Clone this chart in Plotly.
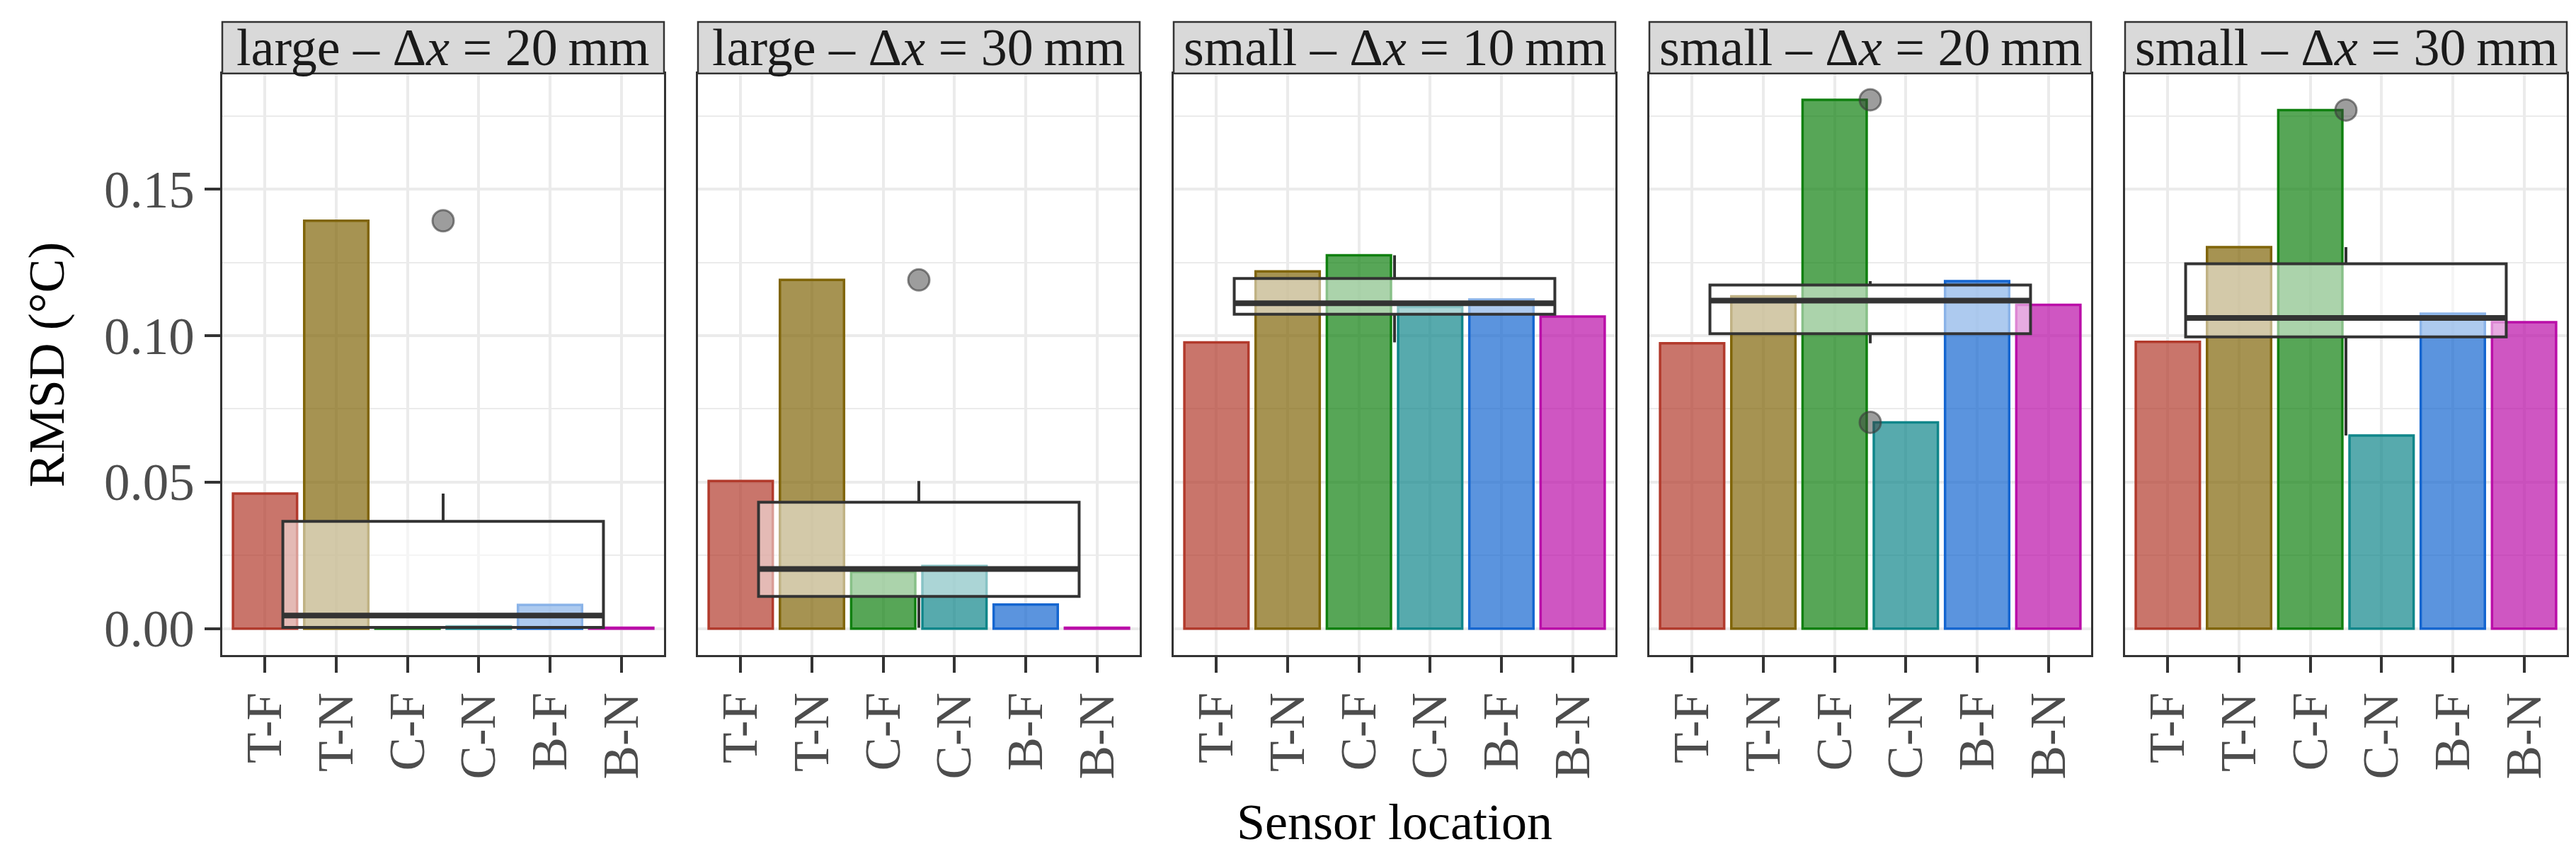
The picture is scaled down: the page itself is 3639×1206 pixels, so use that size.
import numpy as np
import plotly.graph_objects as go

# ---------------- data ----------------
categories = ["T-F", "T-N", "C-F", "C-N", "B-F", "B-N"]
panel_titles = [
    "large – Δ<i>x</i> = 20\u2009mm",
    "large – Δ<i>x</i> = 30\u2009mm",
    "small – Δ<i>x</i> = 10\u2009mm",
    "small – Δ<i>x</i> = 20\u2009mm",
    "small – Δ<i>x</i> = 30\u2009mm",
]
rmsd_large_20 = [0.0461, 0.1392, 0.0002, 0.0008, 0.0081, 0.0003]
rmsd_large_30 = [0.0504, 0.1190, 0.0193, 0.0214, 0.0082, 0.0003]
rmsd_small_10 = [0.0977, 0.1219, 0.1274, 0.1098, 0.1123, 0.1065]
rmsd_small_20 = [0.0974, 0.1134, 0.1805, 0.0704, 0.1186, 0.1105]
rmsd_small_30 = [0.0979, 0.1302, 0.1770, 0.0659, 0.1075, 0.1046]
panels = [rmsd_large_20, rmsd_large_30, rmsd_small_10, rmsd_small_20, rmsd_small_30]

y_tickvals = [0.00, 0.05, 0.10, 0.15]
y_minor = [0.025, 0.075, 0.125, 0.175]

# ---------------- style ----------------
base_rgb = [(178, 58, 44), (128, 101, 9), (16, 128, 16), (16, 134, 138), (21, 102, 208), (186, 14, 168)]
bar_fill = ["rgba(%d,%d,%d,0.7)" % c for c in base_rgb]
bar_line = ["rgb(%d,%d,%d)" % c for c in base_rgb]
FONT = "Liberation Serif"
W, H = 3639, 1206
PANEL_LEFT0, PANEL_W, PANEL_GAP = 306, 624, 48
PANEL_TOP, PANEL_BOTTOM = 96, 920
STRIP_TOP = 23
BOX_WIDTH = 4.5
DARK = "#333333"
GRID = "#EBEBEB"

fig = go.Figure()
layout_axes = {}
shapes = []
annotations = []

ydom = [(H - PANEL_BOTTOM) / H, (H - PANEL_TOP) / H]
yrange = [-0.0090, 0.1895]
xrange = [-0.6, len(categories) - 1 + 0.6]
xpos = list(range(len(categories)))

for i, vals in enumerate(panels):
    left = PANEL_LEFT0 + i * (PANEL_W + PANEL_GAP)
    right = left + PANEL_W
    xa = "x" if i == 0 else "x%d" % (i + 1)
    ya = "y" if i == 0 else "y%d" % (i + 1)
    xkey = "xaxis" if i == 0 else "xaxis%d" % (i + 1)
    ykey = "yaxis" if i == 0 else "yaxis%d" % (i + 1)

    # bars
    fig.add_trace(go.Bar(
        x=xpos, y=vals, width=0.9, xaxis=xa, yaxis=ya,
        marker=dict(color=bar_fill, line=dict(color=bar_line, width=3.5)),
        showlegend=False, hoverinfo="skip"))

    # boxplot statistics computed from the six values
    arr = np.array(vals)
    q1, med, q3 = np.percentile(arr, [25, 50, 75])
    iqr = q3 - q1
    lo_lim, hi_lim = q1 - 1.5 * iqr, q3 + 1.5 * iqr
    inside = arr[(arr >= lo_lim) & (arr <= hi_lim)]
    lower, upper = inside.min(), inside.max()
    outliers = arr[(arr < lo_lim) | (arr > hi_lim)]
    xc = (len(categories) - 1) / 2

    fig.add_trace(go.Box(
        x=[xc], q1=[q1], median=[med], q3=[q3], lowerfence=[lower], upperfence=[upper],
        width=BOX_WIDTH, whiskerwidth=0, boxpoints=False,
        fillcolor="rgba(255,255,255,0.5)", line=dict(color=DARK, width=4),
        xaxis=xa, yaxis=ya, showlegend=False, hoverinfo="skip"))
    fig.add_trace(go.Scatter(
        x=[xc - BOX_WIDTH / 2, xc + BOX_WIDTH / 2], y=[med, med], mode="lines",
        line=dict(color=DARK, width=8), xaxis=xa, yaxis=ya,
        showlegend=False, hoverinfo="skip"))
    if len(outliers):
        fig.add_trace(go.Scatter(
            x=[xc] * len(outliers), y=list(outliers), mode="markers",
            marker=dict(size=30, color="rgba(60,60,60,0.5)",
                        line=dict(color="rgba(60,60,60,0.6)", width=3)),
            xaxis=xa, yaxis=ya, showlegend=False, hoverinfo="skip"))

    layout_axes[xkey] = dict(
        domain=[left / W, right / W], range=xrange, anchor=ya,
        tickmode="array", tickvals=xpos, ticktext=categories, tickangle=-90,
        ticks="outside", ticklen=22, tickwidth=4, tickcolor=DARK,
        tickfont=dict(family=FONT, size=71, color="#4D4D4D"),
        showgrid=True, gridcolor=GRID, gridwidth=4, zeroline=False,
        showline=True, linecolor=DARK, linewidth=2.5, mirror=True)
    layout_axes[ykey] = dict(
        domain=ydom, range=yrange, anchor=xa,
        tickmode="array", tickvals=y_tickvals,
        ticktext=["%.2f" % v for v in y_tickvals],
        showticklabels=(i == 0), ticks="outside" if i == 0 else "",
        ticklen=22, tickwidth=4, tickcolor=DARK,
        tickfont=dict(family=FONT, size=73, color="#4D4D4D"),
        showgrid=True, gridcolor=GRID, gridwidth=4, zeroline=False,
        minor=dict(tickmode="array", tickvals=y_minor, showgrid=True,
                   gridcolor=GRID, gridwidth=2, ticks=""),
        showline=True, linecolor=DARK, linewidth=2.5, mirror=True)

    # strip
    shapes.append(dict(type="rect", xref="paper", yref="paper",
                       x0=left / W, x1=right / W,
                       y0=(H - PANEL_TOP) / H, y1=(H - STRIP_TOP) / H,
                       fillcolor="#D9D9D9", line=dict(color=DARK, width=2.5), layer="above"))
    annotations.append(dict(text=panel_titles[i], xref="paper", yref="paper",
                            x=(left + right) / 2 / W, y=(H - (PANEL_TOP + STRIP_TOP) / 2) / H,
                            xanchor="center", yanchor="middle", showarrow=False,
                            font=dict(family=FONT, size=74, color="#1A1A1A")))

annotations.append(dict(text="RMSD (°C)", xref="paper", yref="paper",
                        x=58 / W, y=(H - 509) / H, textangle=-90,
                        xanchor="center", yanchor="middle", showarrow=False,
                        font=dict(family=FONT, size=72, color="black")))
annotations.append(dict(text="Sensor location", xref="paper", yref="paper",
                        x=(PANEL_LEFT0 + 4 * (PANEL_W + PANEL_GAP) + PANEL_W + PANEL_LEFT0) / 2 / W,
                        y=(H - 1157) / H,
                        xanchor="center", yanchor="middle", showarrow=False,
                        font=dict(family=FONT, size=72, color="black")))

fig.update_layout(width=W, height=H, margin=dict(l=0, r=0, t=0, b=0),
                  paper_bgcolor="white", plot_bgcolor="white",
                  shapes=shapes, annotations=annotations, showlegend=False,
                  **layout_axes)
fig.write_html("out.html")
